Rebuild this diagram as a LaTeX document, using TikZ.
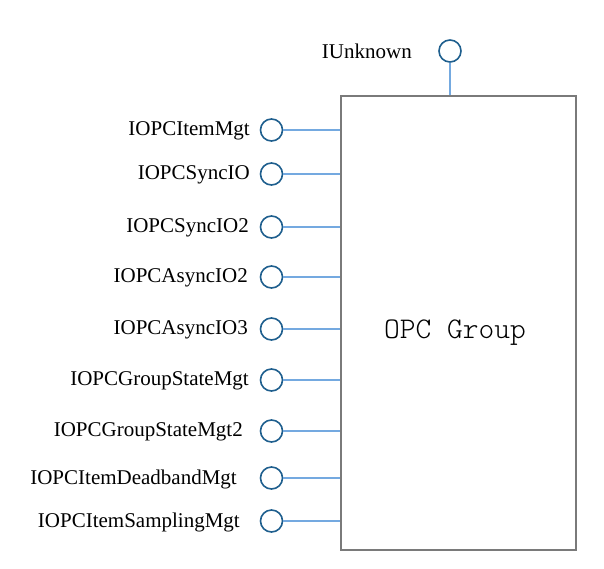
\documentclass[tikz,border=0pt]{standalone}
\usepackage{fontspec}
\setmainfont{Liberation Serif}
\newfontfamily\lightmono{Latin Modern Mono Light}
\begin{document}
\begin{tikzpicture}[x=1pt,y=-1pt,
  port/.style={circle,draw=portblue,line width=1.6pt,minimum size=22pt,inner sep=0pt},
  lbl/.style={anchor=east,inner sep=0pt,font=\fontsize{21}{24}\selectfont},
  link/.style={draw=linkblue,line width=1.6pt},
  groupbox/.style={draw=boxgray,line width=1.1pt,minimum width=235pt,minimum height=454pt,inner sep=0pt}]
\definecolor{portblue}{HTML}{1F5F8E}
\definecolor{linkblue}{HTML}{74A9E0}
\definecolor{boxgray}{HTML}{7A7A7A}
\useasboundingbox (0,0) rectangle (604,568);
\node[groupbox] (box) at (458.5,323) {};
\node[font=\lightmono\fontsize{30}{34}\selectfont] (title) at (455,333) {OPC Group};
% top port
\node[port] (pu) at (450,51) {};
\node[lbl] (lu) at (412,51) {IUnknown};
\draw[link] (pu.south) -- (pu.south |- box.north);
% left ports
\foreach \n/\y/\x/\t in {a/130/250/IOPCItemMgt, b/174/250/IOPCSyncIO, c/227/249/IOPCSyncIO2,
  d/277/248/IOPCAsyncIO2, e/329/248/IOPCAsyncIO3, f/380/249/IOPCGroupStateMgt,
  g/431/243/IOPCGroupStateMgt2, h/478/237/IOPCItemDeadbandMgt, i/521/240/IOPCItemSamplingMgt}{
  \node[port] (p\n) at (271.5,\y) {};
  \node[lbl] (l\n) at (\x,\y+1) {\t};
  \draw[link] (p\n.east) -- (p\n.east -| box.west);
}
\end{tikzpicture}
\end{document}
